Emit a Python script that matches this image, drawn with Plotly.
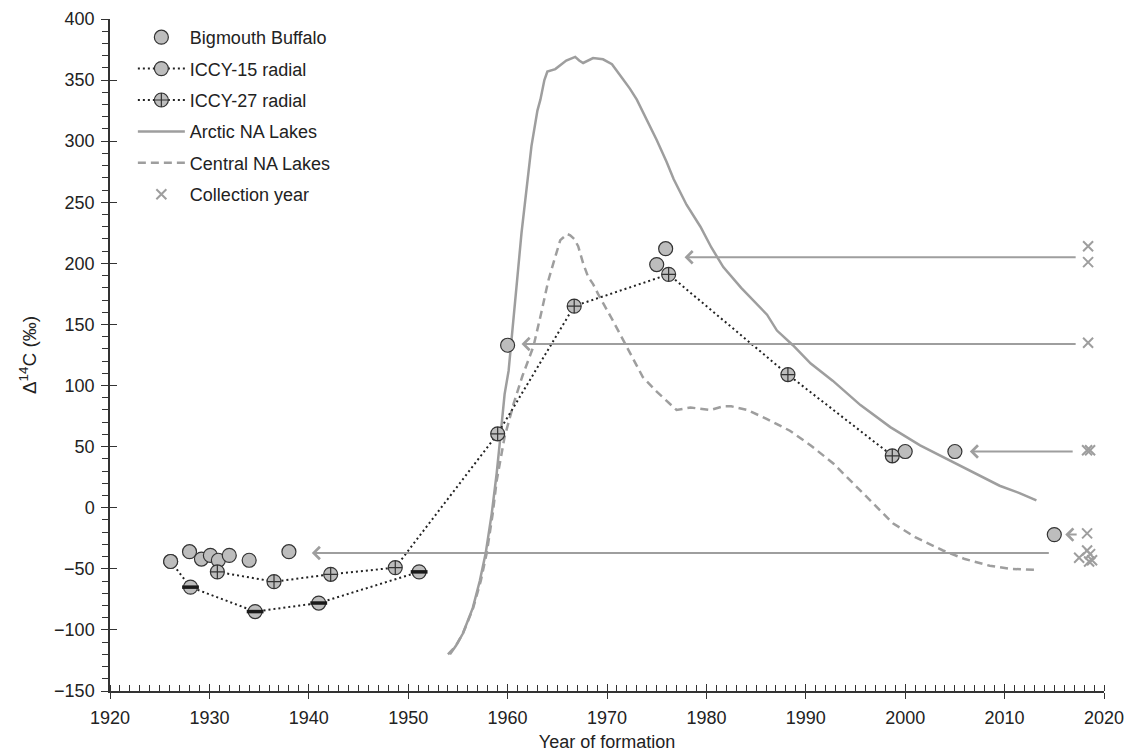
import plotly.graph_objects as go

# ---------------- data ----------------
bb_year = [1926.1, 1928.0, 1929.2, 1930.1, 1930.9, 1932.0, 1934.0, 1938.0,
           1960.0, 1975.0, 1975.9, 2000.0, 2005.0, 2015.0]
bb_val = [-44, -36, -42, -39, -43, -39, -43, -36,
          133, 199, 212, 46, 46, -22]

iccy15_year = [1926.1, 1928.1, 1934.6, 1941.0, 1951.1]
iccy15_val = [-44, -65, -85, -78, -52.5]

iccy27_year = [1930.8, 1936.5, 1942.2, 1948.7, 1959.0, 1966.7, 1976.2, 1988.2, 1998.7]
iccy27_val = [-52.5, -60.5, -54.5, -49, 60.5, 165, 191, 109, 42.5]

arctic_year = [1954.2, 1954.8, 1955.5, 1956.5, 1957.2, 1957.8, 1958.4, 1958.9, 1959.3,
               1959.7, 1960.1, 1960.6, 1961.0, 1961.4, 1962.0, 1962.4, 1963.0, 1963.3,
               1963.7, 1964.0, 1964.8, 1965.4, 1965.9, 1966.8, 1967.2, 1967.6, 1968.1,
               1968.6, 1969.6, 1970.5, 1971.5, 1972.3, 1973.0, 1974.0, 1975.0, 1976.0,
               1976.7, 1978.0, 1979.4, 1980.5, 1981.7, 1983.5, 1986.1, 1987.1, 1988.7,
               1990.5, 1992.7, 1995.5, 1998.5, 2001.5, 2004.5, 2007.5, 2009.5, 2011.5, 2013.2]
arctic_val = [-120, -113, -103, -82, -60, -37, -5, 28, 60,
              93, 112, 153, 190, 225, 265, 296, 325, 334,
              350, 357, 359, 363, 366, 369, 366, 364, 366,
              368, 367, 363, 352, 343, 334, 318, 301, 283,
              269, 248, 230, 213, 197, 180, 158, 145, 133,
              118, 104, 84, 66, 51, 38.6, 26, 18, 12, 6]

central_year = [1954.0, 1954.8, 1955.5, 1956.5, 1957.3, 1957.9, 1958.5, 1958.9, 1959.7,
                1960.6, 1961.5, 1962.6, 1963.4, 1964.1, 1964.6, 1965.3, 1966.0, 1966.3,
                1966.7, 1967.1, 1967.6, 1968.1, 1968.6, 1969.1, 1970.6, 1972.0, 1973.6,
                1975.0, 1977.0, 1978.4, 1979.7, 1980.4, 1981.7, 1982.5, 1984.1, 1986.0,
                1988.4, 1990.5, 1992.8, 1994.5, 1996.5, 1998.8, 2001.0, 2003.8, 2006.0,
                2008.5, 2010.5, 2013.4]
central_val = [-120, -113, -103, -83, -60, -37, -5, 22, 58,
               85, 108, 132, 160, 186, 200, 219, 224, 223,
               220, 214, 200, 189, 183, 175, 153, 132, 107,
               95, 80, 82, 81, 80, 83, 83, 80, 73,
               63, 51, 36, 22, 6, -13, -24, -35, -42,
               -47.5, -50, -51]

coll_year = [2018.4, 2018.4, 2018.4, 2018.3, 2018.6, 2018.3, 2017.5, 2018.3, 2018.6, 2018.8, 2018.5]
coll_val = [214, 201, 135, 47, 47, -21, -41, -35, -38, -43, -44]

arrow_val = [205, 134, 46, -22, -37]
arrow_tail = [2017.3, 2017.3, 2017.0, 2017.4, 2014.6]
arrow_head = [1977.8, 1961.4, 2006.5, 2016.1, 1940.3]

x_ticks = [1920, 1930, 1940, 1950, 1960, 1970, 1980, 1990, 2000, 2010, 2020]
y_ticks = [-150, -100, -50, 0, 50, 100, 150, 200, 250, 300, 350, 400]

# ---------------- styles ----------------
GRAY = "#9e9e9e"
FILL = "#bdbdbd"
EDGE = "#333333"
TXT = "#222222"
FONT = "Liberation Sans, Arial, sans-serif"
MS = 14

fig = go.Figure()

fig.add_trace(go.Scatter(x=arctic_year, y=arctic_val, mode="lines", name="Arctic NA Lakes",
                         line=dict(color=GRAY, width=2.5), legendrank=4, legendgroup="a"))
fig.add_trace(go.Scatter(x=central_year, y=central_val, mode="lines", name="Central NA Lakes",
                         line=dict(color=GRAY, width=2.5, dash="8px,5px"), legendrank=5, legendgroup="c"))
fig.add_trace(go.Scatter(x=coll_year, y=coll_val, mode="markers", name="Collection year",
                         marker=dict(symbol="x-thin", size=10, color=GRAY,
                                     line=dict(color=GRAY, width=2)),
                         legendrank=6, legendgroup="y"))
fig.add_trace(go.Scatter(x=iccy15_year, y=iccy15_val, mode="lines+markers", name="ICCY-15 radial",
                         line=dict(color=TXT, width=2, dash="2px,3px"),
                         marker=dict(symbol="circle", size=MS, color=FILL, line=dict(color=EDGE, width=1.2)),
                         legendrank=2, legendgroup="i15"))
fig.add_trace(go.Scatter(x=iccy15_year[1:], y=iccy15_val[1:], mode="markers", showlegend=False,
                         marker=dict(symbol="line-ew", size=MS - 2, color="#1a1a1a",
                                     line=dict(color="#1a1a1a", width=3.5)),
                         legendgroup="i15"))
fig.add_trace(go.Scatter(x=bb_year, y=bb_val, mode="markers", name="Bigmouth Buffalo",
                         marker=dict(symbol="circle", size=MS, color=FILL, line=dict(color=EDGE, width=1.2)),
                         legendrank=1, legendgroup="bb"))
fig.add_trace(go.Scatter(x=iccy27_year, y=iccy27_val, mode="lines+markers", name="ICCY-27 radial",
                         line=dict(color=TXT, width=2, dash="2px,3px"),
                         marker=dict(symbol="circle-cross", size=MS, color=FILL, line=dict(color=EDGE, width=1.2)),
                         legendrank=3, legendgroup="i27"))
# empty trace to register the overlay axes used for crossing major ticks
fig.add_trace(go.Scatter(x=[], y=[], xaxis="x2", yaxis="y2", showlegend=False, hoverinfo="skip"))

for v, t, h in zip(arrow_val, arrow_tail, arrow_head):
    fig.add_annotation(x=h, y=v, ax=t, ay=v, xref="x", yref="y", axref="x", ayref="y",
                       text="", showarrow=True, arrowhead=4, arrowsize=1.2, arrowwidth=2,
                       arrowcolor=GRAY, standoff=0, startstandoff=0)

axis_common = dict(showline=True, linecolor=EDGE, linewidth=1.5, showgrid=False, zeroline=False,
                   tickcolor=EDGE, tickwidth=1.3, automargin=False,
                   tickfont=dict(family=FONT, size=18, color=TXT))

fig.update_layout(
    width=1127, height=752, autosize=False,
    margin=dict(l=110, r=23, t=19, b=61),
    paper_bgcolor="white", plot_bgcolor="white",
    font=dict(family=FONT, size=18, color=TXT),
    xaxis=dict(range=[1920, 2020], tickvals=x_ticks, ticks="outside", ticklen=6,
               ticklabelstandoff=4,
               minor=dict(dtick=1, ticks="inside", ticklen=6, tickcolor=EDGE, tickwidth=1),
               title=dict(text="Year of formation", font=dict(family=FONT, size=18, color=TXT),
                          standoff=10),
               **axis_common),
    yaxis=dict(range=[-150, 400], tickvals=y_ticks, ticks="outside", ticklen=7,
               ticklabelstandoff=3,
               minor=dict(dtick=10, ticks="outside", ticklen=6, tickcolor=EDGE, tickwidth=1),
               title=dict(text="Δ<sup>14</sup>C (‰)", font=dict(family=FONT, size=19, color=TXT),
                          standoff=12),
               **axis_common),
    xaxis2=dict(range=[1920, 2020], overlaying="x", anchor="y", side="bottom", tickvals=x_ticks,
                ticks="inside", ticklen=7, tickcolor=EDGE, tickwidth=1.3, showticklabels=False,
                showline=False, showgrid=False, zeroline=False, automargin=False),
    yaxis2=dict(range=[-150, 400], overlaying="y", anchor="x", side="left", tickvals=y_ticks,
                ticks="inside", ticklen=7, tickcolor=EDGE, tickwidth=1.3, showticklabels=False,
                showline=False, showgrid=False, zeroline=False, automargin=False),
    legend=dict(x=0.023, y=1.0, xanchor="left", yanchor="top", bgcolor="rgba(0,0,0,0)",
                font=dict(family=FONT, size=18, color=TXT), tracegroupgap=5,
                itemwidth=47),
    showlegend=True,
)

fig.write_html("out.html")
